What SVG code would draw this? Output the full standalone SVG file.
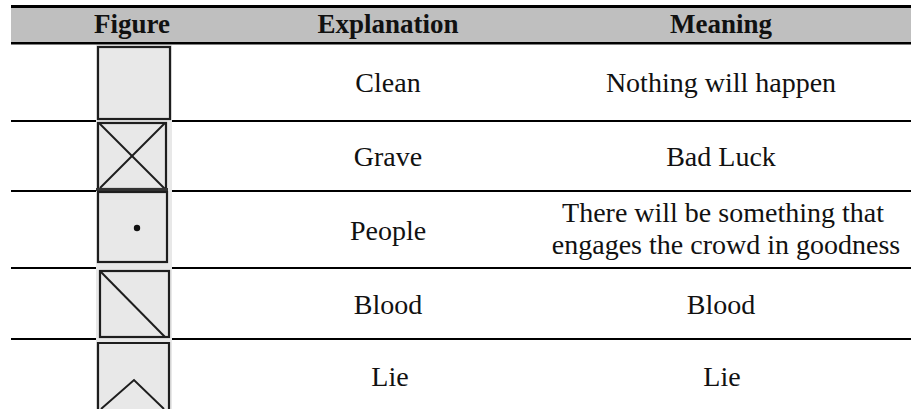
<svg xmlns="http://www.w3.org/2000/svg" width="911" height="409" viewBox="0 0 911 409">
<style>
.hd{font-family:"Liberation Serif","Times New Roman",serif;font-size:27px;font-weight:bold;fill:#111;text-anchor:middle}
.tx{font-family:"Liberation Serif","Times New Roman",serif;font-size:28px;fill:#111;text-anchor:middle}
.rule{stroke:#000;stroke-width:2.2}
.box{fill:none;stroke:#1e1e1e;stroke-width:2.2}
.mk{fill:none;stroke:#1e1e1e;stroke-width:2}
</style>
<rect width="911" height="409" fill="#fff"/>
<g id="header">
<rect x="11" y="7" width="900" height="36" fill="#bfbfbf"/>
<rect x="11" y="5" width="900" height="3" fill="#000"/>
<rect x="11" y="42" width="900" height="2.5" fill="#000"/>
<text class="hd" x="132" y="33">Figure</text>
<text class="hd" x="388" y="33">Explanation</text>
<text class="hd" x="721" y="33">Meaning</text>
</g>
<g id="rules">
<line class="rule" x1="11" y1="121" x2="911" y2="121"/>
<line class="rule" x1="11" y1="191" x2="911" y2="191"/>
<line class="rule" x1="11" y1="268" x2="911" y2="268"/>
<line class="rule" x1="11" y1="339" x2="911" y2="339"/>
</g>
<rect x="96" y="45" width="76" height="364" fill="#e8e8e8"/>
<g id="row-clean">
<rect class="box" x="98" y="47" width="72" height="72"/>
<text class="tx" x="388" y="92">Clean</text>
<text class="tx" x="721" y="92">Nothing will happen</text>
</g>
<g id="row-grave">
<rect class="box" x="98" y="123" width="68" height="66"/>
<line class="mk" x1="99" y1="123" x2="165" y2="189"/>
<line class="mk" x1="165" y1="123" x2="100" y2="188"/>
<rect x="96" y="188" width="72" height="3" fill="#333"/>
<text class="tx" x="388" y="166">Grave</text>
<text class="tx" x="721" y="166">Bad Luck</text>
</g>
<g id="row-people">
<rect class="box" x="98" y="192" width="69" height="70"/>
<circle cx="137" cy="228" r="3.2" fill="#111"/>
<text class="tx" x="388" y="240">People</text>
<text class="tx" x="723" y="222">There will be something that</text>
<text class="tx" x="726" y="254">engages the crowd in goodness</text>
</g>
<g id="row-blood">
<rect class="box" x="100" y="271" width="69" height="66"/>
<line class="mk" x1="100" y1="271" x2="165" y2="337"/>
<text class="tx" x="388" y="314">Blood</text>
<text class="tx" x="721" y="314">Blood</text>
</g>
<g id="row-lie">
<path class="box" d="M98 410 V343 H169 V410"/>
<polyline class="mk" points="101,409 134,380 164,409"/>
<text class="tx" x="390" y="386">Lie</text>
<text class="tx" x="722" y="386">Lie</text>
</g>
</svg>
